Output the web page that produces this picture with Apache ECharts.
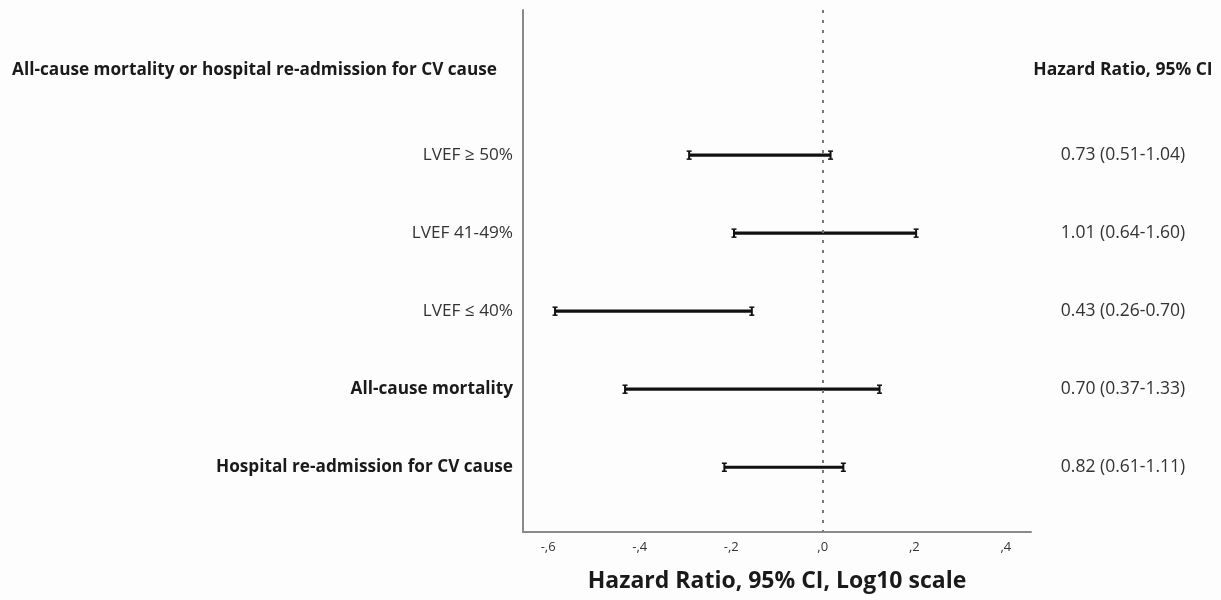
<!DOCTYPE html>
<html>
<head>
<meta charset="utf-8">
<script src="https://cdn.jsdelivr.net/npm/echarts@6/dist/echarts.min.js"></script>
<style>
html,body{margin:0;padding:0;background:#fdfdfd;}
#chart{width:1221px;height:600px;}
</style>
</head>
<body>
<div id="chart"></div>
<script>
// ---- data ----
const headerLeft = 'All-cause mortality or hospital re-admission for CV cause';
const headerRight = 'Hazard Ratio, 95% CI';
const rowLabels = ['LVEF \u2265 50%', 'LVEF 41-49%', 'LVEF \u2264 40%', 'All-cause mortality', 'Hospital re-admission for CV cause'];
const rowBold = [false, false, false, true, true];
const ciText = ['0.73 (0.51-1.04)', '1.01 (0.64-1.60)', '0.43 (0.26-0.70)', '0.70 (0.37-1.33)', '0.82 (0.61-1.11)'];
// log10 of the CI bounds as drawn
const ciLowLog = [-0.292, -0.194, -0.585, -0.432, -0.215];
const ciHighLog = [0.017, 0.204, -0.155, 0.124, 0.045];
const xTicks = [-0.6, -0.4, -0.2, 0, 0.2, 0.4];
const xTitle = 'Hazard Ratio, 95% CI, Log10 scale';

// ---- layout ----
const HEADER_POS = -0.09;
const rowPos = rowLabels.map((_, i) => i + 1);
const yValues = [HEADER_POS].concat(rowPos);
const FONT = '"Open Sans", "Noto Sans", sans-serif';
const FS = 17.2;
const FSR = 17.5;

function tickFmt(v) {
  const r = Math.round(Math.abs(v) * 10);
  return (v < -1e-9 ? '-' : '') + ',' + r;
}

const chart = echarts.init(document.getElementById('chart'), null, {renderer: 'canvas'});
const seriesData = ciLowLog.map((lo, i) => [lo, ciHighLog[i], rowPos[i]]);

chart.setOption({
  backgroundColor: '#fdfdfd',
  animation: false,
  grid: {left: 523, right: 190, top: 10, bottom: 68, containLabel: false, outerBoundsMode: 'none'},
  xAxis: {
    type: 'value', min: -0.655, max: 0.455,
    splitLine: {show: false},
    axisLine: {show: true, onZero: false, lineStyle: {color: '#8a8a8a', width: 2}},
    axisTick: {show: false},
    axisLabel: {customValues: xTicks, formatter: tickFmt, color: '#333', fontSize: 13, fontFamily: FONT, margin: 9},
    name: xTitle, nameLocation: 'middle', nameGap: 38,
    nameTextStyle: {fontSize: 23, fontWeight: 'bold', color: '#1a1a1a', fontFamily: FONT}
  },
  yAxis: [{
    type: 'value', inverse: true, min: -0.86, max: 5.83,
    splitLine: {show: false},
    axisLine: {show: true, onZero: false, lineStyle: {color: '#8a8a8a', width: 2}},
    axisTick: {show: false},
    axisLabel: {
      customValues: yValues, margin: 10, fontFamily: FONT, fontSize: FS, color: '#333',
      formatter: function (v) {
        const i = Math.round(v);
        if (i === 0) return '{h|' + headerLeft + '}';
        return (rowBold[i - 1] ? '{b|' : '{n|') + rowLabels[i - 1] + '}';
      },
      rich: {
        h: {fontWeight: 'bold', fontSize: FS, color: '#1a1a1a', fontFamily: FONT, padding: [0, 16, 0, 0]},
        b: {fontWeight: 'bold', fontSize: FS, color: '#1a1a1a', fontFamily: FONT},
        n: {fontSize: FS, color: '#333', fontFamily: FONT}
      }
    }
  }, {
    type: 'value', inverse: true, min: -0.86, max: 5.83, position: 'right',
    splitLine: {show: false},
    axisLine: {show: false},
    axisTick: {show: false},
    axisLabel: {
      customValues: yValues, margin: 92, align: 'center', fontFamily: FONT, fontSize: FSR, color: '#333',
      formatter: function (v) {
        const i = Math.round(v);
        if (i === 0) return '{h|' + headerRight + '}';
        return '{n|' + ciText[i - 1] + '}';
      },
      rich: {
        h: {fontWeight: 'bold', fontSize: FSR, color: '#1a1a1a', fontFamily: FONT},
        n: {fontSize: FSR, color: '#333', fontFamily: FONT}
      }
    }
  }],
  series: [{
    type: 'custom',
    data: seriesData,
    encode: {x: [0, 1], y: 2},
    renderItem: function (params, api) {
      const p1 = api.coord([api.value(0), api.value(2)]);
      const p2 = api.coord([api.value(1), api.value(2)]);
      const h = 4, s = 2.5;
      const st = {stroke: '#111', lineWidth: 2};
      const ts = {stroke: '#111', lineWidth: 1.5};
      return {
        type: 'group',
        children: [
          {type: 'line', shape: {x1: p1[0], y1: p1[1], x2: p2[0], y2: p2[1]}, style: {stroke: '#111', lineWidth: 3.2}},
          {type: 'line', shape: {x1: p1[0], y1: p1[1] - h, x2: p1[0], y2: p1[1] + h}, style: st},
          {type: 'line', shape: {x1: p2[0], y1: p2[1] - h, x2: p2[0], y2: p2[1] + h}, style: st},
          {type: 'line', shape: {x1: p1[0] - s, y1: p1[1] - h, x2: p1[0] + s, y2: p1[1] - h}, style: ts},
          {type: 'line', shape: {x1: p1[0] - s, y1: p1[1] + h, x2: p1[0] + s, y2: p1[1] + h}, style: ts},
          {type: 'line', shape: {x1: p2[0] - s, y1: p2[1] - h, x2: p2[0] + s, y2: p2[1] - h}, style: ts},
          {type: 'line', shape: {x1: p2[0] - s, y1: p2[1] + h, x2: p2[0] + s, y2: p2[1] + h}, style: ts}
        ]
      };
    },
    markLine: {
      silent: true, symbol: 'none', label: {show: false},
      lineStyle: {color: '#777', width: 2, type: [3, 7]},
      data: [{xAxis: 0}]
    },
    z: 3
  }]
});
</script>
</body>
</html>
